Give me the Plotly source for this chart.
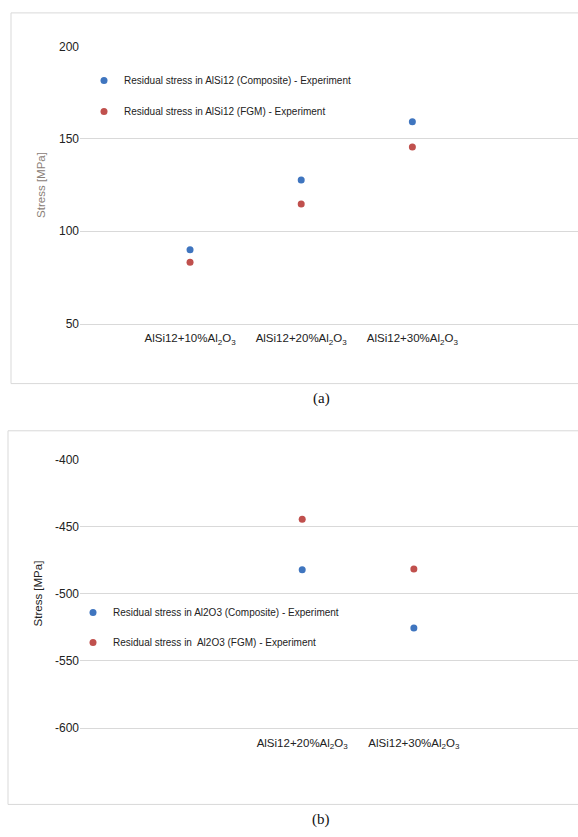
import plotly.graph_objects as go

W, H = 578, 837

# ---- data ----
categories_a = ["AlSi12+10%Al<sub>2</sub>O<sub>3</sub>",
                "AlSi12+20%Al<sub>2</sub>O<sub>3</sub>",
                "AlSi12+30%Al<sub>2</sub>O<sub>3</sub>"]
composite_a = [90.0, 127.7, 159.2]
fgm_a = [83.2, 114.7, 145.6]

categories_b = ["AlSi12+20%Al<sub>2</sub>O<sub>3</sub>",
                "AlSi12+30%Al<sub>2</sub>O<sub>3</sub>"]
composite_b = [-482.2, -525.6]
fgm_b = [-444.6, -481.7]

yticks_a = [50, 100, 150, 200]
yticklabels_a = ["50", "100", "150", "200"]
yticks_b = [-600, -550, -500, -450, -400]
yticklabels_b = ["-600", "-550", "-500", "-450", "-400"]

BLUE = "#3f75bf"
RED = "#c0504d"
GRID = "#d9d9d9"
FONT = "Liberation Sans, Arial, sans-serif"

def px_x(p):
    return p / W

def px_y(p):
    return 1 - p / H

fig = go.Figure()

fig.add_trace(go.Scatter(
    x=categories_a, y=composite_a, mode="markers",
    marker=dict(color=BLUE, size=7),
    name="Residual stress in AlSi12 (Composite) - Experiment",
    xaxis="x", yaxis="y", legend="legend", legendgroup="a1"))
fig.add_trace(go.Scatter(
    x=categories_a, y=fgm_a, mode="markers",
    marker=dict(color=RED, size=7),
    name="Residual stress in AlSi12 (FGM) - Experiment",
    xaxis="x", yaxis="y", legend="legend", legendgroup="a2"))

fig.add_trace(go.Scatter(
    x=categories_b, y=composite_b, mode="markers",
    marker=dict(color=BLUE, size=7),
    name="Residual stress in Al2O3 (Composite) - Experiment",
    xaxis="x2", yaxis="y2", legend="legend2", legendgroup="b1"))
fig.add_trace(go.Scatter(
    x=categories_b, y=fgm_b, mode="markers",
    marker=dict(color=RED, size=7),
    name="Residual stress in  Al2O3 (FGM) - Experiment",
    xaxis="x2", yaxis="y2", legend="legend2", legendgroup="b2"))

fig.update_layout(
    width=W, height=H,
    margin=dict(l=0, r=0, t=0, b=0),
    paper_bgcolor="white", plot_bgcolor="white",
    font=dict(family=FONT, size=11, color="#222222"),
    xaxis=dict(domain=[px_x(80), 1], anchor="y", type="category",
               range=[-0.99, 3.49], showline=True, linecolor=GRID,
               linewidth=1, showgrid=False, zeroline=False, ticks="",
               ticklabelstandoff=4,
               tickfont=dict(family=FONT, size=11.5, color="#222222")),
    yaxis=dict(domain=[px_y(322), px_y(40)], anchor="x", range=[50, 200],
               tickvals=yticks_a, ticktext=yticklabels_a,
               showgrid=True, gridcolor=GRID, gridwidth=1,
               zeroline=False, ticks="", showline=False,
               tickfont=dict(family=FONT, size=12, color="#222222"),
               title=dict(text="Stress [MPa]", standoff=10,
                          font=dict(family=FONT, size=11.5, color="#8a8078"))),
    xaxis2=dict(domain=[px_x(80), 1], anchor="y2", type="category",
                range=[-1.99, 2.47], showline=True, linecolor=GRID,
                linewidth=1, showgrid=False, zeroline=False, ticks="",
                ticklabelstandoff=4,
                tickfont=dict(family=FONT, size=11.5, color="#222222")),
    yaxis2=dict(domain=[px_y(733), px_y(460)], anchor="x2", range=[-600, -400],
                tickvals=yticks_b, ticktext=yticklabels_b,
                showgrid=True, gridcolor=GRID, gridwidth=1,
                zeroline=False, ticks="", showline=False,
                tickfont=dict(family=FONT, size=12, color="#222222"),
                title=dict(text="Stress [MPa]", standoff=9,
                           font=dict(family=FONT, size=11.5, color="#222222"))),
    legend=dict(x=px_x(84), y=px_y(60), xanchor="left", yanchor="top",
                bgcolor="rgba(0,0,0,0)", traceorder="grouped",
                tracegroupgap=12, itemwidth=30,
                font=dict(family=FONT, size=10, color="#222222")),
    legend2=dict(x=px_x(73), y=px_y(601), xanchor="left", yanchor="top",
                 bgcolor="rgba(0,0,0,0)", traceorder="grouped",
                 tracegroupgap=11, itemwidth=30,
                 font=dict(family=FONT, size=10, color="#222222")),
    shapes=[
        dict(type="rect", xref="paper", yref="paper",
             x0=px_x(11), x1=px_x(600), y0=px_y(383), y1=px_y(6),
             line=dict(color=GRID, width=1), fillcolor="rgba(0,0,0,0)"),
        dict(type="rect", xref="paper", yref="paper",
             x0=px_x(8), x1=px_x(600), y0=px_y(811), y1=px_y(431),
             line=dict(color=GRID, width=1), fillcolor="rgba(0,0,0,0)"),
    ],
    annotations=[
        dict(text="(a)", xref="paper", yref="paper", x=px_x(321), y=px_y(398),
             showarrow=False, xanchor="center", yanchor="middle",
             font=dict(family="Liberation Serif, Times New Roman, serif",
                       size=15, color="#111111")),
        dict(text="(b)", xref="paper", yref="paper", x=px_x(321), y=px_y(826),
             showarrow=False, xanchor="center", yanchor="middle",
             font=dict(family="Liberation Serif, Times New Roman, serif",
                       size=15, color="#111111")),
    ],
)

fig.write_html("out.html",
               config={"displayModeBar": False},
               post_script="document.body.style.margin='0';"
                           "document.body.style.overflow='hidden';")
